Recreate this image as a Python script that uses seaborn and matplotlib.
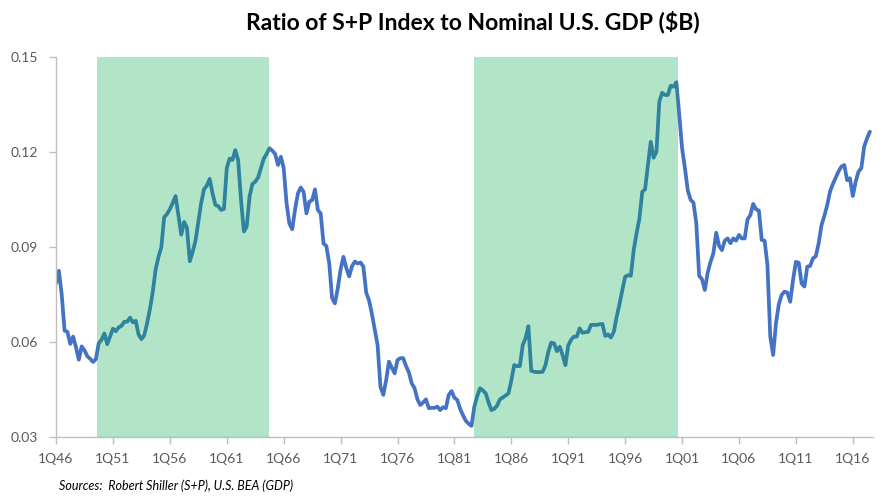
import numpy as np
import pandas as pd
import matplotlib
matplotlib.use("Agg")
import matplotlib.pyplot as plt
import seaborn as sns

# S+P index / nominal GDP, quarterly from 1Q46 to 3Q17
ratio_1946_1955 = [
    0.0786, 0.0826, 0.0750, 0.0637, 0.0633, 0.0595, 0.0618, 0.0585, 0.0545, 0.0587,
    0.0575, 0.0556, 0.0548, 0.0538, 0.0547, 0.0597, 0.0608, 0.0628, 0.0594, 0.0618,
    0.0643, 0.0635, 0.0647, 0.0652, 0.0665, 0.0665, 0.0678, 0.0663, 0.0668, 0.0625,
    0.0610, 0.0622, 0.0660, 0.0705, 0.0760, 0.0830, 0.0870, 0.0900, 0.0995, 0.1005,
]
ratio_1956_1965 = [
    0.1020, 0.1040, 0.1062, 0.1000, 0.0940, 0.0980, 0.0962, 0.0856, 0.0885, 0.0920,
    0.0980, 0.1040, 0.1083, 0.1095, 0.1116, 0.1070, 0.1034, 0.1030, 0.1018, 0.1021,
    0.1150, 0.1180, 0.1176, 0.1207, 0.1175, 0.1050, 0.0950, 0.0965, 0.1060, 0.1100,
    0.1107, 0.1120, 0.1150, 0.1180, 0.1195, 0.1213, 0.1205, 0.1195, 0.1160, 0.1186,
]
ratio_1966_1975 = [
    0.1150, 0.1040, 0.0975, 0.0957, 0.1020, 0.1070, 0.1089, 0.1075, 0.1007, 0.1044,
    0.1049, 0.1083, 0.1018, 0.1007, 0.0912, 0.0904, 0.0850, 0.0740, 0.0723, 0.0770,
    0.0830, 0.0870, 0.0835, 0.0808, 0.0840, 0.0855, 0.0849, 0.0852, 0.0839, 0.0757,
    0.0732, 0.0690, 0.0640, 0.0591, 0.0460, 0.0434, 0.0480, 0.0539, 0.0520, 0.0502,
]
ratio_1976_1985 = [
    0.0544, 0.0550, 0.0550, 0.0525, 0.0505, 0.0470, 0.0455, 0.0420, 0.0402, 0.0410,
    0.0420, 0.0392, 0.0393, 0.0393, 0.0397, 0.0386, 0.0395, 0.0392, 0.0434, 0.0446,
    0.0425, 0.0418, 0.0390, 0.0370, 0.0352, 0.0343, 0.0336, 0.0397, 0.0430, 0.0455,
    0.0448, 0.0439, 0.0410, 0.0386, 0.0390, 0.0400, 0.0420, 0.0426, 0.0432, 0.0439,
]
ratio_1986_1995 = [
    0.0480, 0.0528, 0.0525, 0.0525, 0.0591, 0.0613, 0.0651, 0.0510, 0.0507, 0.0506,
    0.0506, 0.0507, 0.0528, 0.0570, 0.0599, 0.0597, 0.0572, 0.0586, 0.0560, 0.0528,
    0.0590, 0.0608, 0.0618, 0.0618, 0.0644, 0.0630, 0.0632, 0.0633, 0.0655, 0.0655,
    0.0655, 0.0657, 0.0658, 0.0620, 0.0625, 0.0615, 0.0633, 0.0680, 0.0720, 0.0765,
]
ratio_1996_2005 = [
    0.0807, 0.0812, 0.0810, 0.0891, 0.0944, 0.0990, 0.1075, 0.1083, 0.1160, 0.1233,
    0.1183, 0.1202, 0.1360, 0.1388, 0.1381, 0.1381, 0.1410, 0.1407, 0.1421, 0.1320,
    0.1213, 0.1150, 0.1080, 0.1050, 0.1041, 0.0976, 0.0810, 0.0799, 0.0765, 0.0820,
    0.0854, 0.0881, 0.0946, 0.0905, 0.0891, 0.0921, 0.0928, 0.0913, 0.0928, 0.0921,
]
ratio_2006_2017 = [
    0.0939, 0.0928, 0.0928, 0.0988, 0.1002, 0.1037, 0.1020, 0.1016, 0.0923, 0.0921,
    0.0844, 0.0618, 0.0560, 0.0660, 0.0720, 0.0750, 0.0760, 0.0757, 0.0728, 0.0797,
    0.0854, 0.0851, 0.0786, 0.0776, 0.0839, 0.0841, 0.0865, 0.0872, 0.0913, 0.0970,
    0.0999, 0.1033, 0.1076, 0.1100, 0.1120, 0.1140, 0.1155, 0.1160, 0.1112, 0.1118,
    0.1062, 0.1107, 0.1139, 0.1150, 0.1218, 0.1244, 0.1265,
]

tick_labels = ["1Q46", "1Q51", "1Q56", "1Q61", "1Q66", "1Q71", "1Q76", "1Q81",
               "1Q86", "1Q91", "1Q96", "1Q01", "1Q06", "1Q11", "1Q16"]

# shaded secular bull markets, in quarters since 1Q46
shaded_periods = [(14.3, 75.0), (146.8, 218.6)]

ratio = (ratio_1946_1955 + ratio_1956_1965 + ratio_1966_1975 + ratio_1976_1985
         + ratio_1986_1995 + ratio_1996_2005 + ratio_2006_2017)
df = pd.DataFrame({"q": np.arange(len(ratio)), "ratio": ratio})

sns.set_style("white")
plt.rcParams["font.family"] = ["Lato", "DejaVu Sans"]

fig = plt.figure(figsize=(8.88, 4.99), dpi=100)
ax = fig.add_axes([0.0631, 0.1236, 0.9197, 0.7616])

sns.lineplot(data=df, x="q", y="ratio", ax=ax, color="#4472C4", linewidth=2.7, zorder=2)

for start, end in shaded_periods:
    ax.axvspan(start, end, color=(0, 172 / 255, 72 / 255), alpha=0.3, lw=0, zorder=3)

ax.set_xlim(0, 287)
ax.set_ylim(0.03, 0.15)
ax.set_xticks(np.arange(len(tick_labels)) * 20)
ax.set_xticklabels(tick_labels)
ax.set_yticks([0.03, 0.06, 0.09, 0.12, 0.15])
ax.set_yticklabels([f"{v:.2f}" for v in [0.03, 0.06, 0.09, 0.12, 0.15]])
ax.set_xlabel("")
ax.set_ylabel("")

for side in ["top", "right"]:
    ax.spines[side].set_visible(False)
for side in ["left", "bottom"]:
    ax.spines[side].set_color("#BFBFBF")
    ax.spines[side].set_linewidth(1.0)
ax.tick_params(axis="both", length=5, width=1, color="#BFBFBF",
               labelcolor="#595959", labelsize=10)
ax.tick_params(axis="x", pad=6, bottom=True)
ax.tick_params(axis="y", pad=8, left=True)

fig.text(0.533, 0.955, "Ratio of S+P Index to Nominal U.S. GDP ($B)",
         ha="center", va="center", fontsize=16.5, fontweight="bold", color="black")
fig.text(0.066, 0.027, "Sources:  Robert Shiller (S+P), U.S. BEA (GDP)",
         ha="left", va="center", fontsize=9, style="italic", color="black")

fig.savefig("out.png", dpi=100)
